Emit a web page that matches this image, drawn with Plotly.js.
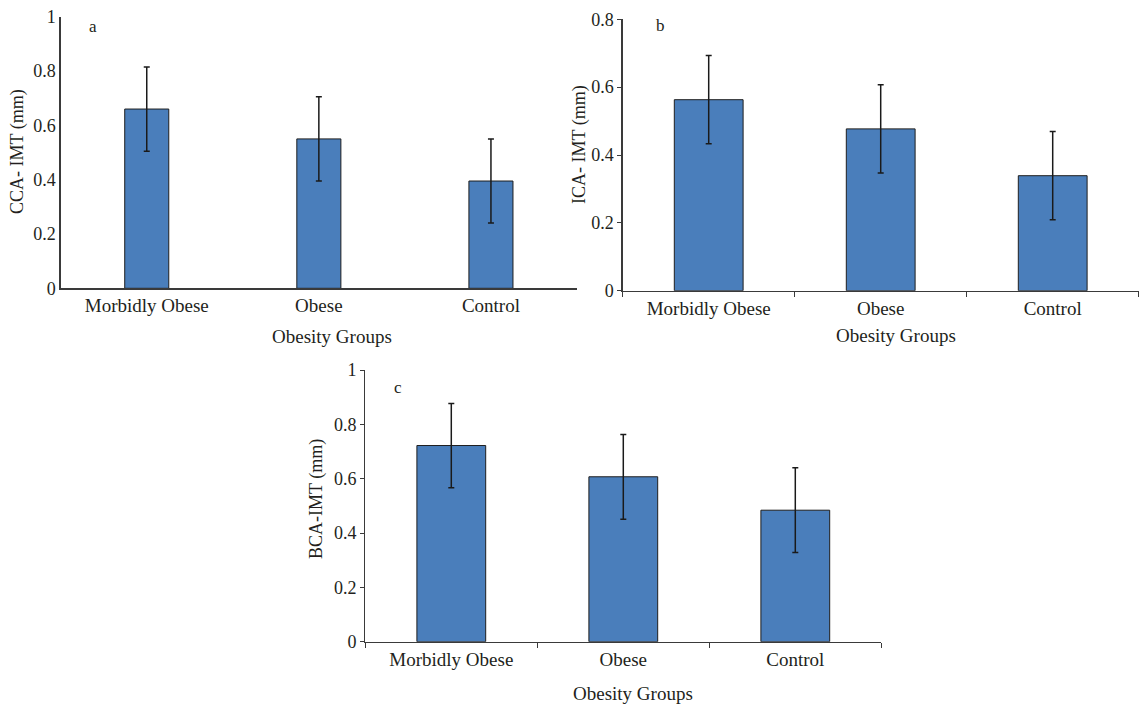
<!DOCTYPE html>
<html>
<head>
<meta charset="utf-8">
<script src="https://cdn.plot.ly/plotly-3.0.1.min.js"></script>
<style>
html,body{margin:0;padding:0;background:#fff;}
#chart{width:1141px;height:705px;}
</style>
</head>
<body>
<div id="chart"></div>
<script>
const categories = ["Morbidly Obese", "Obese", "Control"];
const ccaValues = [0.66, 0.55, 0.395];
const ccaErrors = [0.155, 0.155, 0.155];
const icaValues = [0.563, 0.477, 0.339];
const icaErrors = [0.13, 0.13, 0.13];
const bcaValues = [0.722, 0.607, 0.484];
const bcaErrors = [0.155, 0.156, 0.156];
const panelLetters = ["a", "b", "c"];
const yTitles = ["CCA- IMT (mm)", "ICA- IMT (mm)", "BCA-IMT (mm)"];
const xTitle = "Obesity Groups";

const W = 1141, H = 705;
const FONT = "Liberation Serif, Times New Roman, serif";
const TXT = "#231f20";
const barFill = "#4a7ebb";
const barLine = "#1e1e1e";

function bar(values, errs, xa, ya, width) {
  return {
    type: "bar", x: categories, y: values, xaxis: xa, yaxis: ya,
    width: width,
    marker: {color: barFill, line: {color: barLine, width: 1}},
    error_y: {type: "data", array: errs, visible: true, color: "#1a1a1a", thickness: 1.5, width: 3},
    hoverinfo: "x+y", showlegend: false
  };
}

const data = [
  bar(ccaValues, ccaErrors, "x", "y", 0.256),
  bar(icaValues, icaErrors, "x2", "y2", 0.40),
  bar(bcaValues, bcaErrors, "x3", "y3", 0.40)
];

function px(x) { return x / W; }
function py(y) { return 1 - y / H; }

const xTickFont = {family: FONT, size: 19, color: TXT};
const yTickFont = {family: FONT, size: 18, color: TXT};
function xAxis(d, anchor, ticks) {
  return {
    domain: d, anchor: anchor, type: "category",
    range: [-0.5, 2.5],
    showline: true, linecolor: "#3a3a3a", linewidth: 1.3,
    showgrid: false, zeroline: false,
    ticks: ticks ? "outside" : "", tickson: "boundaries", ticklen: 5, tickcolor: "#3a3a3a", tickwidth: 1,
    tickfont: xTickFont, automargin: false, fixedrange: true
  };
}
function yAxis(d, anchor, r, ticks) {
  return {
    domain: d, anchor: anchor, range: r, dtick: 0.2, tick0: 0,
    showline: true, linecolor: "#3a3a3a", linewidth: 1.3,
    showgrid: false, zeroline: false,
    ticks: ticks ? "outside" : "", ticklen: 4, tickcolor: "#3a3a3a", tickwidth: 1,
    tickfont: yTickFont, automargin: false, fixedrange: true
  };
}

function ann(text, x, y, size, angle) {
  return {
    text: text, xref: "paper", yref: "paper", x: px(x), y: py(y),
    xanchor: "center", yanchor: "middle", showarrow: false,
    textangle: angle || 0, font: {family: FONT, size: size, color: TXT}
  };
}

const layout = {
  width: W, height: H,
  margin: {l: 0, r: 0, t: 0, b: 0},
  paper_bgcolor: "#ffffff", plot_bgcolor: "#ffffff",
  showlegend: false,
  xaxis: xAxis([px(60.7), px(577)], "y", false),
  yaxis: yAxis([py(288.3), py(16.7)], "x", [0, 1], false),
  xaxis2: xAxis([px(622.7), px(1138.7)], "y2", true),
  yaxis2: yAxis([py(290.7), py(19.3)], "x2", [0, 0.8], true),
  xaxis3: xAxis([px(365.3), px(881.3)], "y3", true),
  yaxis3: yAxis([py(641.7), py(370)], "x3", [0, 1], true),
  annotations: [
    ann(panelLetters[0], 93, 26, 17),
    ann(panelLetters[1], 660, 25, 17),
    ann(panelLetters[2], 398, 387, 17),
    ann(yTitles[0], 18, 152, 18, -90),
    ann(yTitles[1], 580, 145, 18, -90),
    ann(yTitles[2], 316, 499, 18, -90),
    ann(xTitle, 332, 336, 19),
    ann(xTitle, 896, 335, 19),
    ann(xTitle, 633, 693, 19)
  ]
};

Plotly.newPlot("chart", data, layout, {displayModeBar: false, staticPlot: true});
</script>
</body>
</html>
